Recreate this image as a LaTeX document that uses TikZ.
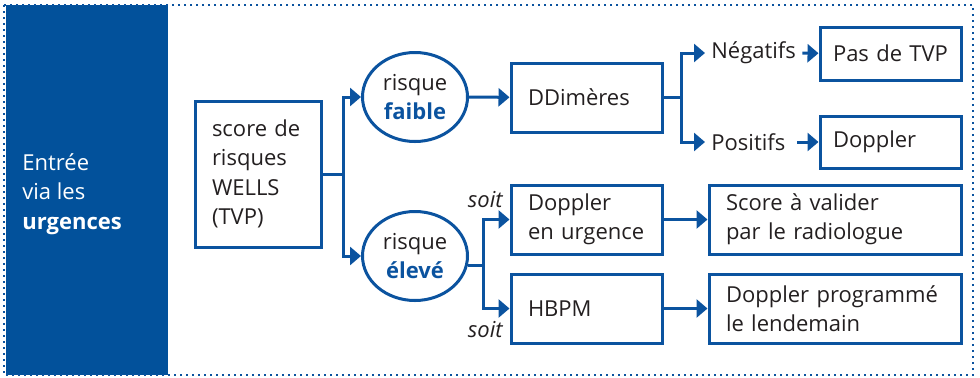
\documentclass[tikz,border=0pt]{standalone}
\usepackage{fontspec}
\setmainfont{Open Sans}
\usetikzlibrary{shapes.geometric,
    arrows.meta,
    calc}
\definecolor{tvpblue}{HTML}{0B539F}
\definecolor{panelblue}{HTML}{02519B}
\definecolor{ink}{HTML}{231F20}

\begin{document}
\fontsize{11}{14.7}\selectfont
\begin{tikzpicture} [x = 0.5pt, y = -0.5pt,
    every node/.style = {text = ink},
    box/.style = {draw = tvpblue, line width = 1.5pt, align = left,
        inner xsep = 8.5pt, minimum height = 34.5pt},
    risk/.style = {ellipse, draw = tvpblue, line width = 1.5pt, align = center,
        minimum width = 52.5pt, minimum height = 44.5pt, inner sep = 0pt},
    tag/.style = {inner xsep = 3pt, inner ysep = 1pt},
    link/.style = {draw = tvpblue, line width = 1.5pt},
    arrow/.style = {link, -{Triangle[length = 5.5pt, width = 9pt]}}]
\useasboundingbox (0,0) rectangle (980,377);
\fill[panelblue] (6,5) rectangle (168,375);
\draw[tvpblue, line width = 1pt, dotted] (4,5) rectangle (973,375);

\node[anchor = west, align = left, text = white, inner sep = 0pt] (entry) at (22,194) {Entrée\\via les\\\textbf{urgences}};

\node[box, text width = 46pt, minimum height = 73pt] (score) at (258,174) {score de\\risques\\WELLS\\(TVP)};
\node[risk] (faible) at (415,97) {risque\\\textcolor{tvpblue}{\textbf{faible}}};
\node[risk] (eleve) at (415,256) {risque\\\textcolor{tvpblue}{\textbf{élevé}}};

\node[box, text width = 58.5pt] (ddim) at (586.5,97.5) {DDimères};
\node[tag, anchor = west] (neg) at (705,53) {Négatifs};
\node[tag, anchor = west] (pos) at (705,142) {Positifs};
\coordinate (posout) at (797,142);
\node[box, inner xsep = 6.5pt, text width = 57.5pt, minimum height = 26.5pt] (notvp) at (890.5,53.5) {Pas de TVP};
\node[box, inner xsep = 6.5pt, text width = 57.5pt, minimum height = 26pt] (dopp) at (890.5,142) {Doppler};

\node[box, text width = 58.5pt] (urg) at (586.5,219.5) {Doppler\\en urgence};
\node[box, text width = 58.5pt] (hbpm) at (586.5,308.5) {HBPM};
\node[anchor = east, font = \itshape, inner xsep = 0pt] (soit1) at (503,200) {soit};
\node[anchor = east, font = \itshape, inner xsep = 0pt] (soit2) at (503,330) {soit};
\node[box, text width = 109pt] (valid) at (835,219.5) {Score à valider\\par le radiologue};
\node[box, text width = 109pt] (prog) at (835,308.5) {Doppler programmé\\le lendemain};

\draw[link] (score.east) -- ++(21,0) coordinate (fork1);
\draw[arrow] (fork1) |- (faible.west);
\draw[arrow] (fork1) |- (eleve.west);
\draw[arrow] (faible) -- (ddim);
\draw[link] (ddim.east) -- ++(18,0) coordinate (fork2);
\draw[arrow] (fork2) |- (neg.west);
\draw[arrow] (fork2) |- (pos.west);
\draw[arrow] (neg) -- (notvp);
\draw[arrow] (posout) -- (dopp);
\draw[link] (eleve.-10) -- ++(15.5,0) coordinate (fork3);
\draw[arrow] (fork3) |- (urg.west);
\draw[arrow] (fork3) |- (hbpm.west);
\draw[arrow] (urg) -- (valid);
\draw[arrow] (hbpm) -- (prog);
\end{tikzpicture}
\end{document}
